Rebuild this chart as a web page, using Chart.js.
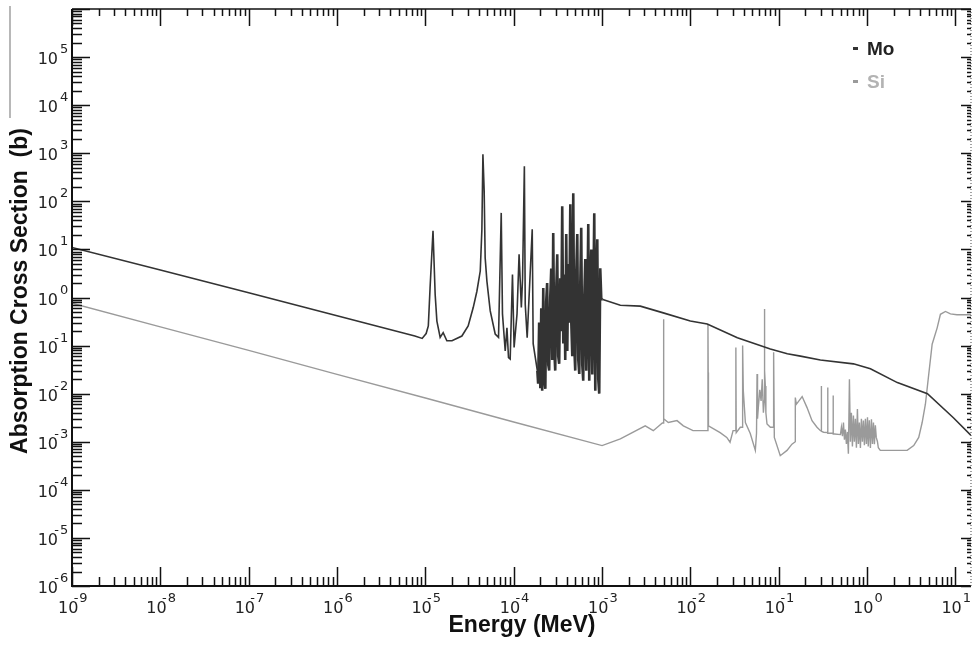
<!DOCTYPE html>
<html>
<head>
<meta charset="utf-8">
<script src="https://cdn.jsdelivr.net/npm/chart.js@4.4.1/dist/chart.umd.min.js"></script>
<style>
    html, body { margin: 0; padding: 0; background: #fff; }
    #chart_box { width: 974px; height: 646px; }
</style>
</head>
<body>
<div id="chart_box"><canvas id="chart_xs" width="974" height="646"></canvas></div>
<script>
// energy (MeV), cross section (b)
const mo_points = [
    [1e-9, 11.0], [1e-8, 3.72], [1e-7, 1.26], [1e-6, 0.417], [3.16e-6, 0.240], [7.6e-6, 0.158],
    [9.2e-6, 0.141], [1.02e-5, 0.178], [1.08e-5, 0.257], [1.13e-5, 1.58], [1.22e-5, 24.5],
    [1.29e-5, 1.17], [1.35e-5, 0.324], [1.47e-5, 0.148], [1.59e-5, 0.186], [1.75e-5, 0.126],
    [2.0e-5, 0.126], [2.59e-5, 0.158], [3.05e-5, 0.257], [3.48e-5, 0.617], [3.83e-5, 1.35],
    [4.18e-5, 3.55], [4.36e-5, 25.7], [4.48e-5, 955], [4.63e-5, 162], [4.75e-5, 6.76],
    [4.97e-5, 2.19], [5.42e-5, 0.525], [6.17e-5, 0.174], [6.73e-5, 0.148], [7.22e-5, 57.5],
    [7.46e-5, 0.457], [8.01e-5, 0.0776], [8.38e-5, 0.234], [8.73e-5, 0.0562], [9.12e-5, 0.0525],
    [9.68e-5, 3.02], [1.01e-4, 0.0912], [1.09e-4, 0.457], [1.15e-4, 7.94], [1.22e-4, 0.617],
    [1.26e-4, 2.57], [1.32e-4, 537], [1.35e-4, 0.724], [1.42e-4, 0.145], [1.62e-4, 26.3],
    [1.66e-4, 0.110], [1.85e-4, 0.03], [1.89e-4, 0.0162], [1.94e-4, 0.3], [2.00e-4, 0.013],
    [2.05e-4, 0.6], [2.10e-4, 0.0115], [2.16e-4, 1.58], [2.21e-4, 0.02], [2.28e-4, 0.0126],
    [2.33e-4, 0.8], [2.39e-4, 2.0], [2.46e-4, 0.04], [2.52e-4, 0.0302], [2.59e-4, 1.0],
    [2.66e-4, 4.0], [2.73e-4, 0.05], [2.80e-4, 21.9], [2.88e-4, 0.08], [2.95e-4, 0.0302],
    [3.03e-4, 1.5], [3.11e-4, 7.94], [3.19e-4, 0.06], [3.27e-4, 0.0417], [3.36e-4, 2.5],
    [3.45e-4, 0.2], [3.54e-4, 79.4], [3.64e-4, 0.110], [3.73e-4, 3.0], [3.83e-4, 0.05],
    [3.93e-4, 20.9], [4.04e-4, 0.0776], [4.14e-4, 5.0], [4.25e-4, 0.3], [4.37e-4, 87.1],
    [4.48e-4, 0.324], [4.60e-4, 0.06], [4.72e-4, 148], [4.84e-4, 0.1], [4.97e-4, 0.0302],
    [5.10e-4, 3.0], [5.24e-4, 20.9], [5.38e-4, 0.05], [5.52e-4, 0.0257], [5.67e-4, 2.0],
    [5.81e-4, 28.2], [5.97e-4, 0.04], [6.12e-4, 0.0186], [6.29e-4, 1.0], [6.46e-4, 6.3],
    [6.63e-4, 0.03], [6.80e-4, 0.5], [6.98e-4, 33.9], [7.16e-4, 0.0186], [7.35e-4, 1.5],
    [7.55e-4, 10.0], [7.75e-4, 0.025], [7.95e-4, 0.8], [8.16e-4, 56.2], [8.38e-4, 0.0115],
    [8.60e-4, 2.0], [8.83e-4, 16.2], [9.06e-4, 0.02], [9.29e-4, 0.0100], [9.54e-4, 4.07],
    [9.80e-4, 0.933], [1.02e-3, 0.912], [1.61e-3, 0.692], [2.71e-3, 0.661], [4.93e-3, 0.479],
    [9.98e-3, 0.324], [1.55e-2, 0.282], [3.40e-2, 0.145], [8.03e-2, 0.0851], [0.125, 0.0676],
    [0.176, 0.0603], [0.296, 0.0501], [0.700, 0.0417], [1.09, 0.0331], [2.20, 0.0170],
    [4.82, 0.0100], [9.48, 0.00316], [15, 0.00135]
];

const si_points = [
    [1e-9, 0.759], [1e-8, 0.245], [1e-7, 0.0794], [1e-6, 0.0251], [1e-5, 0.00813], [1e-4, 0.00257],
    [1e-3, 8.32e-4], [1.61e-3, 1.15e-3], [3.08e-3, 2.14e-3], [3.80e-3, 1.70e-3], [4.81e-3, 2.45e-3],
    [4.98e-3, 2.45e-3], [4.98e-3, 0.355], [4.98e-3, 3.02e-3], [5.62e-3, 2.51e-3], [7.05e-3, 2.75e-3],
    [8.32e-3, 2.14e-3], [1.07e-2, 1.70e-3], [1.47e-2, 1.70e-3], [1.58e-2, 1.70e-3], [1.58e-2, 0.275],
    [1.59e-2, 0.0275], [1.60e-2, 2.14e-3], [2.17e-2, 1.55e-3], [2.58e-2, 1.23e-3], [2.81e-2, 9.77e-4],
    [3.04e-2, 1.70e-3], [3.27e-2, 1.70e-3], [3.27e-2, 0.0912], [3.30e-2, 1.55e-3], [3.67e-2, 2.0e-3],
    [3.90e-2, 2.0e-3], [3.90e-2, 0.1], [3.97e-2, 0.0115], [4.19e-2, 2.51e-3], [4.76e-2, 1.48e-3],
    [5.43e-2, 6.61e-4], [5.60e-2, 1.5e-3], [5.68e-2, 0.0257], [5.75e-2, 3.0e-3], [5.87e-2, 5.13e-3],
    [6.10e-2, 0.012], [6.31e-2, 7.08e-3], [6.50e-2, 0.02], [6.70e-2, 4.0e-3], [6.87e-2, 7.08e-3],
    [6.87e-2, 0.575], [6.95e-2, 0.03], [7.05e-2, 0.0145], [7.15e-2, 4.0e-3], [7.36e-2, 2.34e-3],
    [8.04e-2, 2.0e-3], [8.75e-2, 2.0e-3], [8.75e-2, 0.0724], [8.91e-2, 1.23e-3], [0.104, 5.13e-4],
    [0.124, 6.61e-4], [0.141, 8.91e-4], [0.154, 1.0e-3], [0.154, 8.32e-3], [0.158, 6.0e-3],
    [0.184, 8.71e-3], [0.209, 5.13e-3], [0.238, 2.75e-3], [0.271, 2.0e-3], [0.296, 1.70e-3],
    [0.303, 1.70e-3], [0.303, 0.0145], [0.305, 1.65e-3], [0.322, 1.58e-3], [0.358, 1.55e-3],
    [0.358, 0.0135], [0.360, 1.5e-3], [0.412, 1.5e-3], [0.412, 9.12e-3], [0.415, 1.45e-3],
    [0.427, 1.45e-3], [0.499, 1.41e-3], [0.512, 2.0e-3], [0.526, 1.3e-3], [0.540, 2.51e-3],
    [0.554, 1.1e-3], [0.568, 1.8e-3], [0.583, 9.0e-4], [0.599, 1.6e-3], [0.614, 5.62e-4],
    [0.631, 0.020], [0.647, 1.0e-3], [0.664, 4.0e-3], [0.682, 8.0e-4], [0.700, 3.5e-3],
    [0.718, 1.0e-3], [0.737, 3.0e-3], [0.757, 7.5e-4], [0.777, 4.79e-3], [0.797, 9.0e-4],
    [0.818, 2.5e-3], [0.840, 7.41e-4], [0.862, 3.0e-3], [0.885, 1.0e-3], [0.908, 2.75e-3],
    [0.932, 8.5e-4], [0.957, 3.0e-3], [0.982, 9.0e-4], [1.01, 3.24e-3], [1.03, 8.0e-4],
    [1.06, 2.8e-3], [1.09, 7.41e-4], [1.12, 2.95e-3], [1.15, 9.0e-4], [1.18, 2.5e-3],
    [1.21, 8.91e-4], [1.24, 2.2e-3], [1.27, 1.23e-3], [1.31, 1.0e-3], [1.34, 7.5e-4],
    [1.41, 6.61e-4], [2.84, 6.61e-4], [3.37, 8.32e-4], [3.84, 1.23e-3], [4.20, 2.51e-3],
    [4.57, 6.03e-3], [4.99, 0.0257], [5.45, 0.107], [6.21, 0.234], [6.76, 0.447], [7.71, 0.513],
    [8.77, 0.457], [10.4, 0.437], [15, 0.437]
];

const series_names = ['Mo', 'Si'];
const series_colors = ['#333333', '#9a9a9a'];
const legend_text_colors = ['#222222', '#b3b3b3'];

// the unresolved resonance band is drawn heavier in the original
const mo_dense_band = [1.8e-4, 1.0e-3];

const x_tick_exponents = [-9, -8, -7, -6, -5, -4, -3, -2, -1, 0, 1];
const y_tick_exponents = [-6, -5, -4, -3, -2, -1, 0, 1, 2, 3, 4, 5];

const x_title = 'Energy (MeV)';
const y_title = 'Absorption Cross Section  (b)';

function to_xy(points) {
    return points.map((p) => ({ x: p[0], y: p[1] }));
}

function draw_power_label(ctx, base_x, base_y, exponent, horizontal) {
    // "10" with a raised exponent, minus sits above the zero like the original
    const digits = String(Math.abs(exponent));
    ctx.fillStyle = '#222';
    ctx.textBaseline = 'alphabetic';
    ctx.font = '16px "DejaVu Sans"';
    ctx.textAlign = horizontal ? 'left' : 'right';
    ctx.fillText('10', base_x, base_y);
    const ten_w = ctx.measureText('10').width;
    const exp_x = horizontal ? base_x + ten_w + 1 : base_x + 2;
    ctx.font = '13px "DejaVu Sans"';
    ctx.textAlign = 'left';
    ctx.fillText(digits, exp_x, base_y - 11);
    if (exponent < 0) {
        ctx.textAlign = 'right';
        ctx.fillText('-', exp_x - 1, base_y - 11);
    }
}

const frame_plugin = {
    id: 'frame_plugin',
    afterDraw(chart) {
        const ctx = chart.ctx;
        const xs = chart.scales.x;
        const ys = chart.scales.y;
        const area = chart.chartArea;
        ctx.save();

        // stray rule at far left
        ctx.strokeStyle = '#888';
        ctx.lineWidth = 1.2;
        ctx.beginPath();
        ctx.moveTo(10, 6);
        ctx.lineTo(10, 118);
        ctx.stroke();

        // frame
        ctx.strokeStyle = '#111';
        ctx.lineWidth = 2;
        ctx.beginPath();
        ctx.moveTo(area.left, area.top);
        ctx.lineTo(area.left, area.bottom);
        ctx.lineTo(area.right, area.bottom);
        ctx.stroke();
        ctx.lineWidth = 1.5;
        ctx.beginPath();
        ctx.moveTo(area.left, area.top);
        ctx.lineTo(area.right, area.top);
        ctx.stroke();
        ctx.strokeStyle = '#666';
        ctx.lineWidth = 1.2;
        ctx.setLineDash([1, 2]);
        ctx.beginPath();
        ctx.moveTo(area.right, area.top);
        ctx.lineTo(area.right, area.bottom);
        ctx.stroke();
        ctx.setLineDash([]);

        // ticks on all four sides, pointing inward
        ctx.strokeStyle = '#111';
        ctx.lineWidth = 1.5;
        ctx.beginPath();
        x_tick_exponents.forEach((e) => {
            for (let m = 1; m <= 9; m++) {
                const v = m * Math.pow(10, e);
                if (v < xs.min || v > xs.max) continue;
                const px = Math.round(xs.getPixelForValue(v)) + 0.5;
                const major = m === 1;
                ctx.moveTo(px, area.bottom);
                ctx.lineTo(px, area.bottom - (major ? 19 : 9));
                ctx.moveTo(px, area.top);
                ctx.lineTo(px, area.top + (major ? 17 : 7));
            }
        });
        y_tick_exponents.concat([6]).forEach((e) => {
            for (let m = 1; m <= 9; m++) {
                const v = m * Math.pow(10, e);
                if (v < ys.min || v > ys.max) continue;
                const py = Math.round(ys.getPixelForValue(v)) + 0.5;
                const major = m === 1;
                ctx.moveTo(area.left, py);
                ctx.lineTo(area.left + (major ? 18 : 10), py);
                ctx.moveTo(area.right, py);
                ctx.lineTo(area.right - (major ? 10 : 4), py);
            }
        });
        ctx.stroke();

        // tick labels
        x_tick_exponents.forEach((e) => {
            const px = xs.getPixelForValue(Math.pow(10, e));
            draw_power_label(ctx, px - 14, area.bottom + 27, e, true);
        });
        y_tick_exponents.forEach((e) => {
            const py = ys.getPixelForValue(Math.pow(10, e));
            draw_power_label(ctx, 58, py + 7, e, false);
        });

        // axis titles
        ctx.fillStyle = '#111';
        ctx.font = 'bold 23px "Liberation Sans"';
        ctx.textAlign = 'center';
        ctx.textBaseline = 'middle';
        ctx.fillText(x_title, 522, 626);
        ctx.save();
        ctx.translate(21, 291);
        ctx.rotate(-Math.PI / 2);
        ctx.fillText(y_title, 0, 0);
        ctx.restore();

        // legend
        ctx.font = 'bold 19px "Liberation Sans"';
        ctx.textAlign = 'left';
        ctx.textBaseline = 'alphabetic';
        series_names.forEach((name, i) => {
            const row_y = 55 + i * 33;
            ctx.fillStyle = series_colors[i];
            ctx.fillRect(853, row_y - 8, 5, 3);
            ctx.fillStyle = legend_text_colors[i];
            ctx.fillText(name, 867, row_y);
        });

        ctx.restore();
    }
};

function build_chart() {
    const ctx = document.getElementById('chart_xs').getContext('2d');
    new Chart(ctx, {
        type: 'scatter',
        data: {
            datasets: [
                {
                    label: series_names[0],
                    data: to_xy(mo_points),
                    showLine: true,
                    borderColor: series_colors[0],
                    borderWidth: 1.6,
                    pointRadius: 0,
                    tension: 0,
                    segment: {
                        borderWidth: (seg) => {
                            const x0 = seg.p0.parsed.x;
                            return x0 >= mo_dense_band[0] && x0 < mo_dense_band[1] ? 2.6 : 1.6;
                        },
                    },
                },
                {
                    label: series_names[1],
                    data: to_xy(si_points),
                    showLine: true,
                    borderColor: series_colors[1],
                    borderWidth: 1.4,
                    pointRadius: 0,
                    tension: 0,
                },
            ],
        },
        options: {
            responsive: false,
            animation: false,
            devicePixelRatio: 1,
            layout: {
                padding: { top: 9, right: 3, bottom: 60, left: 72 },
            },
            plugins: {
                legend: { display: false },
                tooltip: { enabled: false },
            },
            scales: {
                x: { type: 'logarithmic', min: 1e-9, max: 15, display: false },
                y: { type: 'logarithmic', min: 1e-6, max: 1e6, display: false },
            },
        },
        plugins: [frame_plugin],
    });
}

build_chart();
</script>
</body>
</html>
